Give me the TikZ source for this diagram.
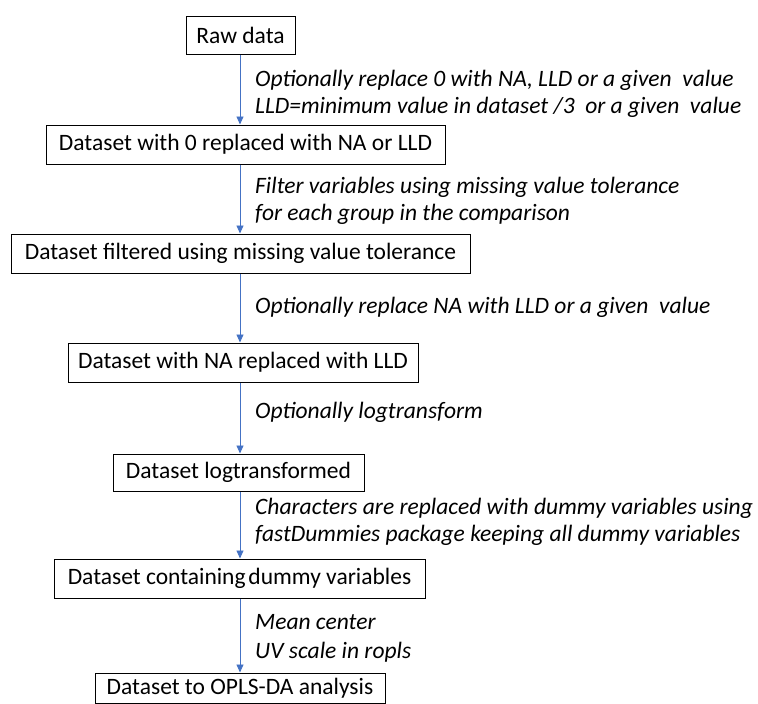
\documentclass[tikz,border=0pt]{standalone}
\usepackage{fontspec}
\setmainfont{Carlito}
\usetikzlibrary{arrows.meta}
\definecolor{flowblue}{HTML}{4472C4}
\begin{document}
\begin{tikzpicture}[x=1pt,y=-1pt,
  stagebox/.style={draw=black, line width=1pt, inner sep=0pt, align=center,
    font=\fontsize{23.5}{28}\selectfont},
  flow/.style={draw=flowblue, line width=0.9pt, -{Triangle[length=8pt,width=7pt]}},
  note/.style={anchor=base west, inner sep=0pt, font=\fontsize{23.5}{28}\selectfont\itshape}]
\useasboundingbox (0,0) rectangle (758,704);
% processing stages
\node[stagebox, minimum width=109, minimum height=38] (b1) at (240.5,35) {Raw data};
\node[stagebox, minimum width=399, minimum height=39] (b2) at (245.5,144.5) {Dataset with 0 replaced with NA or LLD};
\node[stagebox, minimum width=459, minimum height=39] (b3) at (240.5,253.5) {Dataset filtered using missing value tolerance};
\node[stagebox, minimum width=350, minimum height=39] (b4) at (243,362.5) {Dataset with NA replaced with LLD};
\node[stagebox, minimum width=251, minimum height=37] (b5) at (238.5,472.5) {Dataset logtransformed};
\node[stagebox, minimum width=371, minimum height=39] (b6) at (239.5,578.5) {Dataset containing\hspace{0.12em}dummy variables};
\node[stagebox, minimum width=290, minimum height=30] (b7) at (240,688) {Dataset to OPLS-DA analysis};
% common vertical axis of the connectors
\coordinate (ax) at (240,0);
\draw[flow] (b1.south -| ax) -- (b2.north -| ax);
\draw[flow] (b2.south -| ax) -- (b3.north -| ax);
\draw[flow] (b3.south -| ax) -- (b4.north -| ax);
\draw[flow] (b4.south -| ax) -- (b5.north -| ax);
\draw[flow] (b5.south -| ax) -- (b6.north -| ax);
\draw[flow] (b6.south -| ax) -- (b7.north -| ax);
% step descriptions
\node[note] (n1a) at (255,86) {Optionally replace 0 with NA, LLD or a given~ value};
\node[note] (n1b) at (255,113) {LLD=minimum value in dataset /3~ or a given~ value};
\node[note] (n2a) at (255,193) {Filter variables using missing value tolerance};
\node[note] (n2b) at (255,220) {for each group in the comparison};
\node[note] (n3) at (255,313) {Optionally replace NA with LLD or a given~ value};
\node[note] (n4) at (255,418) {Optionally logtransform};
\node[note] (n5a) at (255,514) {Characters are replaced with dummy variables using};
\node[note] (n5b) at (255,541) {fastDummies package keeping all dummy variables};
\node[note] (n6a) at (255,629) {Mean center};
\node[note] (n6b) at (255,658) {UV scale in ropls};
\end{tikzpicture}
\end{document}
